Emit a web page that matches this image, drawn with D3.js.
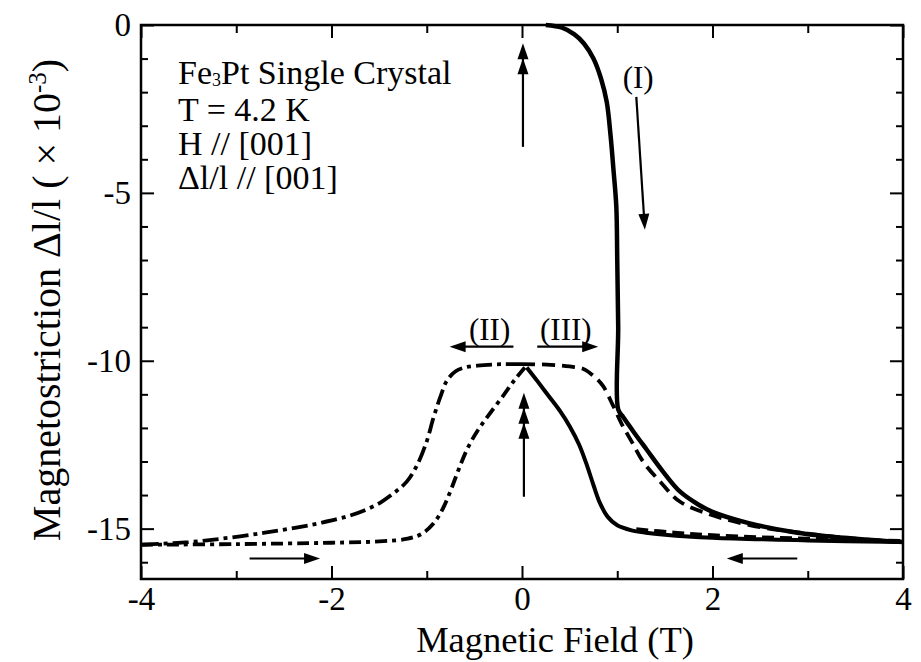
<!DOCTYPE html>
<html><head><meta charset="utf-8">
<script src="https://cdn.jsdelivr.net/npm/d3@7"></script>
<style>body{margin:0;background:#fff}svg{display:block}text{font-family:"Liberation Serif","Times New Roman",serif;fill:#000}</style>
</head><body><svg id="c" width="921" height="662" font-family="Liberation Serif"></svg>
<script>
// ---- data (H in tesla, Δl/l in 1e-3) ----
const xMajor = [-4, -2, 0, 2, 4];
const xMinor = [-3, -1, 1, 3];
const yMajor = [0, -5, -10, -15];
const yMinor = [-1,-2,-3,-4,-6,-7,-8,-9,-11,-12,-13,-14,-16];

// (I) virgin curve, solid
const curveI = [[0.25,0],[0.42,-0.08],[0.55,-0.28],[0.65,-0.55],[0.75,-1.0],[0.83,-1.6],[0.89,-2.3],[0.93,-3.3],[0.96,-4.3],[0.99,-5.4],[1.0,-7],[1.01,-9],[1.01,-11.45],[1.06,-11.67],[1.18,-12.15],[1.31,-12.65],[1.48,-13.3],[1.66,-13.9],[1.85,-14.28],[2.0,-14.5],[2.36,-14.82],[2.89,-15.12],[3.5,-15.3],[4.0,-15.4]];
// return from +4 T to 0, solid
const returnRight = [[4,-15.4],[3,-15.35],[2,-15.27],[1.5,-15.18],[1.3,-15.12],[1.15,-15.05],[1.0,-14.9],[0.9,-14.65],[0.82,-14.25],[0.75,-13.7],[0.68,-13.1],[0.6,-12.5],[0.5,-11.95],[0.4,-11.5],[0.28,-11.05],[0.16,-10.6],[0.05,-10.2]];
const returnRightDash = [[1.2,-15.02],[1.6,-15.12],[2,-15.2],[2.5,-15.26],[3,-15.3],[3.5,-15.34],[4,-15.37]];
// (II) from 0 to -4 T, dash-dot
const curveII = [[0,-10.1],[-0.2,-10.1],[-0.4,-10.13],[-0.6,-10.2],[-0.7,-10.32],[-0.79,-10.6],[-0.86,-11.1],[-0.93,-11.7],[-1.0,-12.4],[-1.1,-13.1],[-1.21,-13.6],[-1.35,-13.95],[-1.49,-14.23],[-1.65,-14.45],[-1.84,-14.64],[-2.1,-14.82],[-2.37,-14.97],[-2.7,-15.12],[-3.07,-15.27],[-3.5,-15.4],[-4,-15.48]];
// return from -4 T to 0, dash-dot
const returnLeft = [[-4,-15.48],[-3,-15.46],[-2,-15.42],[-1.5,-15.38],[-1.2,-15.3],[-1.05,-15.15],[-0.93,-14.85],[-0.83,-14.4],[-0.74,-13.8],[-0.66,-13.2],[-0.57,-12.6],[-0.47,-12.1],[-0.35,-11.62],[-0.2,-11.05],[-0.08,-10.58],[0.03,-10.2]];
// (III) from 0 to +4 T, dashed
const curveIII = [[0,-10.1],[0.3,-10.12],[0.5,-10.17],[0.65,-10.25],[0.75,-10.45],[0.85,-10.75],[0.95,-11.3],[1.05,-11.9],[1.15,-12.4],[1.27,-13.0],[1.45,-13.6],[1.66,-14.2],[2.0,-14.6],[2.4,-14.9],[3.0,-15.15],[3.5,-15.3],[4,-15.4]];

// arrows: [x1,y1,x2,y2,heads] in data units (tip at x2,y2)
const arrows = [
  [0.01,-3.63,0.01,-0.54,2],
  [1.20,-2.14,1.29,-6.1,1],
  [-0.09,-9.58,-0.76,-9.58,1],
  [0.16,-9.58,0.80,-9.58,1],
  [0.02,-14.05,0.02,-10.95,3],
  [-2.86,-15.89,-2.12,-15.89,1],
  [2.89,-15.89,2.15,-15.89,1]
];
const labels = [["(I)",1.22,-1.875],["(II)",-0.34,-9.375],["(III)",0.46,-9.375]];
const infoLines = ["Single Crystal","T = 4.2 K","H // [001]","\u0394l/l // [001]"];

// ---- layout ----
const F="Liberation Serif";
const L=141,R=903,T=25,B=579;
const svg=d3.select("#c");
const x=d3.scaleLinear().domain([-4,4]).range([L,R]);
const y=d3.scaleLinear().domain([-16.5,0]).range([B,T]);
const fmt=d=>String(d);

function axisG(gen, tr){ const g=svg.append("g").attr("transform",tr).call(gen); g.attr("font-family",F); g.select(".domain").remove(); g.selectAll("line").attr("stroke","#000").attr("stroke-width",2); g.selectAll("text").attr("font-family",F).style("font-size","33px"); return g;}
axisG(d3.axisBottom(x).tickValues(xMajor).tickSize(-13).tickPadding(8).tickFormat(fmt), `translate(0,${B})`);
axisG(d3.axisBottom(x).tickValues(xMinor).tickSize(-8).tickFormat(""), `translate(0,${B})`);
axisG(d3.axisTop(x).tickValues(xMajor).tickSize(-13).tickFormat(""), `translate(0,${T})`);
axisG(d3.axisTop(x).tickValues(xMinor).tickSize(-8).tickFormat(""), `translate(0,${T})`);
axisG(d3.axisLeft(y).tickValues(yMajor).tickSize(-13).tickPadding(10).tickFormat(fmt), `translate(${L},0)`);
axisG(d3.axisLeft(y).tickValues(yMinor).tickSize(-7).tickFormat(""), `translate(${L},0)`);
axisG(d3.axisRight(y).tickValues(yMajor).tickSize(-13).tickFormat(""), `translate(${R},0)`);
axisG(d3.axisRight(y).tickValues(yMinor).tickSize(-7).tickFormat(""), `translate(${R},0)`);
svg.append("rect").attr("x",L).attr("y",T).attr("width",R-L).attr("height",B-T).attr("fill","none").attr("stroke","#000").attr("stroke-width",2.5);

const line=d3.line().x(d=>x(d[0])).y(d=>y(d[1])).curve(d3.curveCatmullRom.alpha(0.5));
function path(data, w, dash){ svg.append("path").datum(data).attr("d",line).attr("fill","none").attr("stroke","#000").attr("stroke-width",w).attr("stroke-dasharray",dash||null).attr("stroke-linejoin","round"); }
path(curveI,4.5);
path(returnRight,4);
path(returnRightDash,4,"12,6");
path(curveII,3.8,"16,5,4,5");
path(returnLeft,3.8,"12,5,4,5");
path(curveIII,3.8,"13,7");

// arrows
arrows.forEach(a=>{
  const x1=x(a[0]),y1=y(a[1]),x2=x(a[2]),y2=y(a[3]);
  const ang=Math.atan2(y2-y1,x2-x1), len=16, hw=5.5, sp=15;
  svg.append("line").attr("x1",x1).attr("y1",y1).attr("x2",x2-Math.cos(ang)*6).attr("y2",y2-Math.sin(ang)*6).attr("stroke","#000").attr("stroke-width",2.2);
  for(let k=0;k<a[4];k++){
    const tx=x2-Math.cos(ang)*sp*k, ty=y2-Math.sin(ang)*sp*k;
    const bx=tx-Math.cos(ang)*len, by=ty-Math.sin(ang)*len;
    const px=-Math.sin(ang)*hw, py=Math.cos(ang)*hw;
    svg.append("path").attr("d",`M${tx},${ty}L${bx+px},${by+py}L${bx-px},${by-py}Z`).attr("fill","#000");
  }
});
labels.forEach(l=>svg.append("text").attr("x",x(l[1])).attr("y",y(l[2])).attr("text-anchor","middle").attr("font-family",F).style("font-size","31px").text(l[0]));

// info block (one text element, one tspan row per line)
const info=svg.append("text").attr("x",178).attr("y",84).attr("font-family",F).style("font-size","34px");
info.append("tspan").text("Fe");
info.append("tspan").attr("dy",2).style("font-size","18px").text("3");
info.append("tspan").attr("dy",-2).text("Pt "+infoLines[0]);
infoLines.slice(1).forEach((t,i)=>info.append("tspan").attr("x",178).attr("dy",i===0?36.5:34).text(t));

// axis titles
svg.append("text").attr("x",555).attr("y",652).attr("text-anchor","middle").attr("font-family",F).style("font-size","36.5px").text("Magnetic Field (T)");
const yt=svg.append("text").attr("transform","translate(60,300) rotate(-90)").attr("text-anchor","middle").attr("font-family",F).style("font-size","40px");
yt.append("tspan").text("Magnetostriction \u0394l/l ( \u00D7 10");
yt.append("tspan").attr("dy",-14).style("font-size","25px").text("-3");
yt.append("tspan").attr("dy",14).text(")");
</script></body></html>
